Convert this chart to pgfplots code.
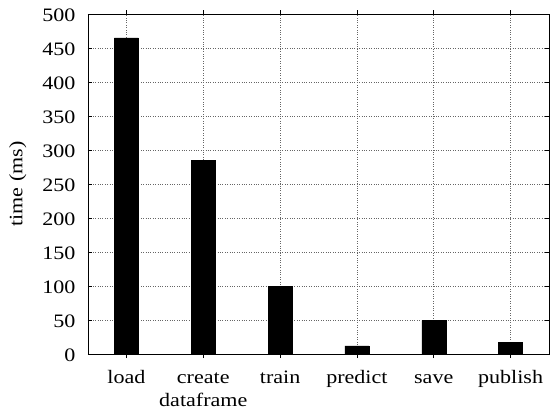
\documentclass[border=0pt]{standalone}
\usepackage{pgfplots}
\pgfplotsset{compat=1.18}
\usepackage{fontspec}
\setmainfont{Liberation Serif}[FakeStretch=1.16]
\begin{document}
\fontsize{19}{22}\selectfont
\begin{tikzpicture}
\useasboundingbox (-88pt,-59pt) rectangle (465pt,354pt);
\begin{axis}[
  name=a, at={(0,0)}, anchor=south west,
  scale only axis, width=461pt, height=340pt,
  xmin=-0.5, xmax=5.5, ymin=0, ymax=500,
  ytick={0,50,...,500},
  xtick={0,1,2,3,4,5},
  xticklabels={load,{create\\dataframe},train,predict,save,publish},
  xticklabel style={align=center, yshift=-3pt, font=\fontsize{19}{23}\selectfont},
  typeset ticklabels with strut,
  yticklabel style={xshift=-6pt, yshift=-3pt, font=\fontsize{19}{22}\selectfont},
  /pgf/number format/assume math mode=true,
  ylabel={time (ms)},
  ylabel style={yshift=3pt, font=\fontsize{19}{22}\selectfont},
  grid=major,
  major grid style={black!60, dotted, line width=0.6pt},
  tick align=inside, major tick length=4pt,
  tick style={black, line width=0.6pt},
  axis line style={black, line width=0.8pt},
  ybar, bar width=24pt,
]
\addplot[fill=black, draw=black] coordinates {(0,465) (1,285) (2,100) (3,12) (4,49) (5,17)};
\end{axis}
\end{tikzpicture}
\end{document}
